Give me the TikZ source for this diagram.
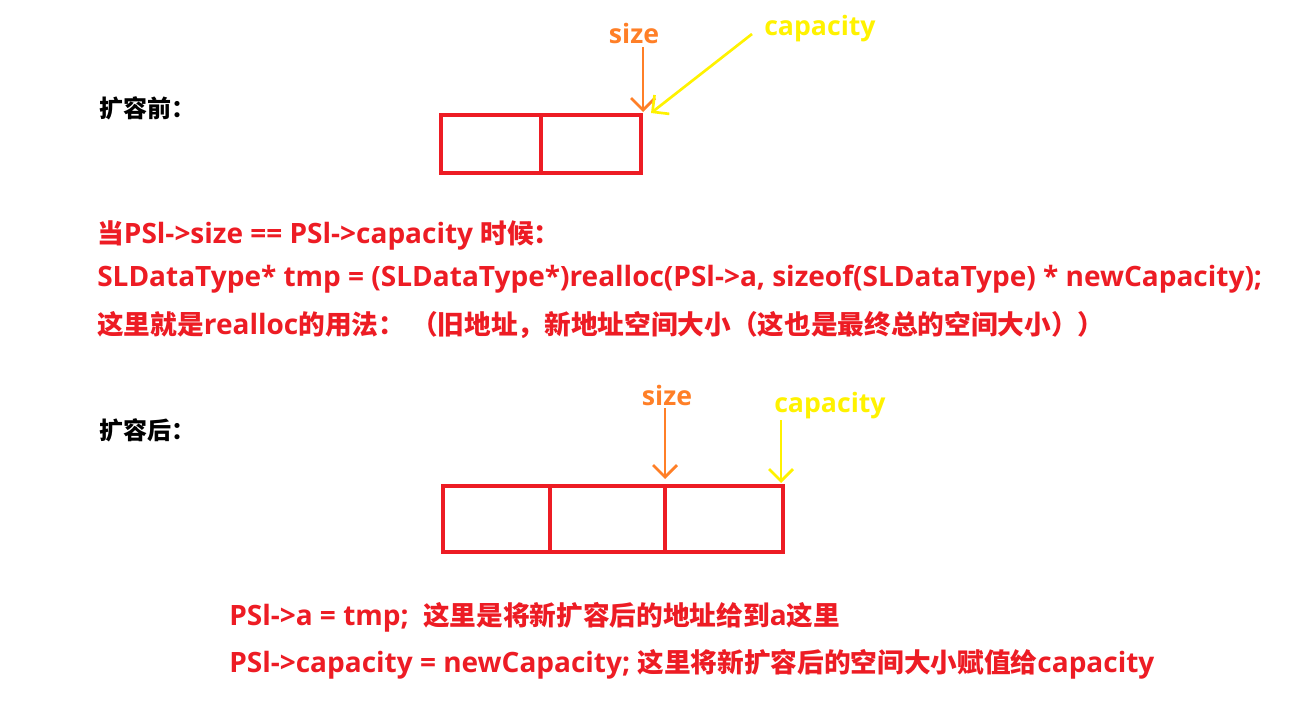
\documentclass[tikz,border=0pt]{standalone}
\usepackage{fontspec}
\setmainfont{Open Sans}
\newfontfamily\cjkf{Noto Sans CJK SC}
\newcommand\cjk{\fontsize{20pt}{22pt}\selectfont\cjkf}
\usetikzlibrary{arrows.meta}
\definecolor{pred}{HTML}{ED1C24}
\definecolor{porange}{HTML}{FF7F27}
\definecolor{pyellow}{HTML}{FFF200}
\tikzset{
  txt/.style={anchor=west, inner sep=0pt, font=\fontsize{21pt}{22pt}\selectfont\bfseries, text=pred},
  head/.style={anchor=west, inner sep=0pt, font=\fontsize{18pt}{20pt}\selectfont\bfseries\cjkf},
  lbl/.style={inner sep=0pt, font=\fontsize{20pt}{22pt}\selectfont\bfseries},
  cell/.style={draw=pred, line width=3.2pt},
  ptr/.style={line width=2pt, -{Straight Barb[length=9pt,width=18pt,line width=2pt]}},
}
\begin{document}
\begin{tikzpicture}[x=0.75pt,y=-0.75pt]
\useasboundingbox (0,0) rectangle (1303,714);
% before
\node[head] (before) at (99,108) {扩容前：};
\draw[cell] (441,115) rectangle (641,173);
\draw[cell] (541,115) -- (541,173);
\node[lbl, text=porange] (size1) at (634,33) {size};
\node[lbl, text=pyellow, anchor=west] (cap1) at (764,29) {capacity};
\draw[ptr, draw=porange] (643,47) -- (643,112);
\draw[ptr, draw=pyellow] (752,34) -- (651,113);
% text
\node[txt] (l1) at (97,235) {{\cjk 当}PSl->size == PSl->capacity {\cjk 时候：}};
\node[txt] (l2) at (97,279) {SLDataType* tmp = (SLDataType*)realloc(PSl->a, sizeof(SLDataType) * newCapacity);};
\node[txt] (l3) at (97,325) {{\cjk 这里就是}realloc{\cjk 的用法： （旧地址，新地址空间大小（这也是最终总的空间大小））}};
% after
\node[head] (after) at (99,430) {扩容后：};
\draw[cell] (443,486) rectangle (783,552);
\draw[cell] (550,486) -- (550,552);
\draw[cell] (665,486) -- (665,552);
\node[lbl, text=porange] (size2) at (667,395) {size};
\node[lbl, text=pyellow, anchor=west] (cap2) at (774,406) {capacity};
\draw[ptr, draw=porange] (665,408) -- (665,479);
\draw[ptr, draw=pyellow] (781,420) -- (781,483);
% bottom text
\node[txt] (b1) at (229,617) {PSl->a = tmp;\ \ {\cjk 这里是将新扩容后的地址给到}a{\cjk 这里}};
\node[txt] (b2) at (229,664) {PSl->capacity = newCapacity; {\cjk 这里将新扩容后的空间大小赋值给}capacity};
\end{tikzpicture}
\end{document}
